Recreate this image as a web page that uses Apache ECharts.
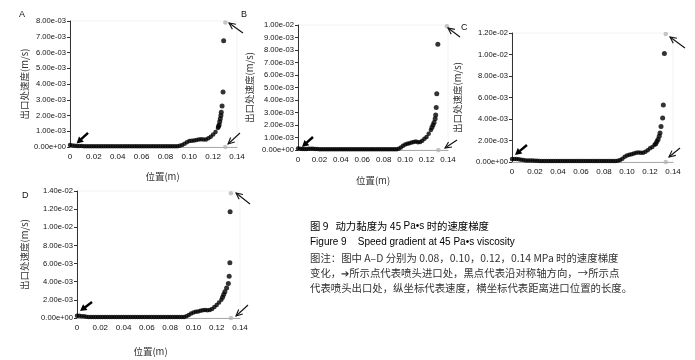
<!DOCTYPE html>
<html>
<head>
<meta charset="utf-8">
<script src="https://cdn.jsdelivr.net/npm/echarts@6/dist/echarts.min.js"></script>
<style>
  html, body { margin: 0; padding: 0; background: #fff; }
  #chart { width: 695px; height: 360px; }
</style>
</head>
<body>
<div id="chart"></div>
<script>
// 沿对称轴的位置 (m)，四幅图共用
const xBody = [0, 0.002, 0.004, 0.006, 0.008, 0.010, 0.012, 0.014, 0.016, 0.018,
  0.020, 0.022, 0.024, 0.026, 0.028, 0.030, 0.032, 0.034, 0.036, 0.038,
  0.040, 0.042, 0.044, 0.046, 0.048, 0.050, 0.052, 0.054, 0.056, 0.058,
  0.060, 0.062, 0.064, 0.066, 0.068, 0.070, 0.072, 0.074, 0.076, 0.078,
  0.080, 0.082, 0.084, 0.086, 0.088, 0.090, 0.092, 0.094, 0.096, 0.098,
  0.100, 0.102, 0.104, 0.106, 0.108, 0.110, 0.112, 0.114, 0.116, 0.118,
  0.120, 0.122, 0.124];

// 速度 (m/s)
const yBodyA = [0.00012, 0.00010, 0.00008, 0.00007, 0.00007, 0.00006, 0.00005, 0.00005, 0.00005, 0.00005,
  0.00005, 0.00005, 0.00005, 0.00005, 0.00005, 0.00005, 0.00005, 0.00005, 0.00005, 0.00005,
  0.00005, 0.00005, 0.00005, 0.00005, 0.00005, 0.00005, 0.00005, 0.00005, 0.00005, 0.00005,
  0.00005, 0.00005, 0.00005, 0.00005, 0.00005, 0.00005, 0.00005, 0.00005, 0.00005, 0.00005,
  0.00005, 0.00005, 0.00005, 0.00005, 0.00005, 0.00005, 0.00008, 0.00012, 0.00020, 0.00030,
  0.00038, 0.00040, 0.00042, 0.00045, 0.00048, 0.00050, 0.00047, 0.00048, 0.00056, 0.00065,
  0.00080, 0.00095, 0.00120];
const yBodyB = [0.00012, 0.00010, 0.00008, 0.00008, 0.00009, 0.00010, 0.00010, 0.00010, 0.00009, 0.00008,
  0.00007, 0.00006, 0.00006, 0.00006, 0.00006, 0.00006, 0.00006, 0.00006, 0.00006, 0.00006,
  0.00006, 0.00006, 0.00006, 0.00006, 0.00006, 0.00006, 0.00006, 0.00006, 0.00006, 0.00006,
  0.00006, 0.00006, 0.00006, 0.00006, 0.00006, 0.00006, 0.00006, 0.00006, 0.00006, 0.00006,
  0.00006, 0.00006, 0.00006, 0.00006, 0.00006, 0.00006, 0.00006, 0.00010, 0.00020, 0.00035,
  0.00045, 0.00050, 0.00055, 0.00060, 0.00065, 0.00068, 0.00062, 0.00065, 0.00075, 0.00090,
  0.00105, 0.00130, 0.00160];
const yBodyC = [0.00028, 0.00028, 0.00027, 0.00025, 0.00020, 0.00018, 0.00015, 0.00015, 0.00014, 0.00013,
  0.00012, 0.00011, 0.00010, 0.00010, 0.00010, 0.00010, 0.00010, 0.00010, 0.00010, 0.00010,
  0.00010, 0.00010, 0.00010, 0.00010, 0.00010, 0.00010, 0.00010, 0.00010, 0.00010, 0.00010,
  0.00010, 0.00010, 0.00010, 0.00010, 0.00010, 0.00010, 0.00010, 0.00010, 0.00010, 0.00010,
  0.00010, 0.00010, 0.00010, 0.00010, 0.00010, 0.00010, 0.00012, 0.00018, 0.00030, 0.00048,
  0.00060, 0.00068, 0.00072, 0.00078, 0.00085, 0.00088, 0.00087, 0.00086, 0.00095, 0.00110,
  0.00127, 0.00140, 0.00160];
const yBodyD = [0.00025, 0.00025, 0.00020, 0.00018, 0.00015, 0.00012, 0.00010, 0.00010, 0.00010, 0.00010,
  0.00010, 0.00010, 0.00010, 0.00010, 0.00010, 0.00010, 0.00010, 0.00010, 0.00010, 0.00010,
  0.00010, 0.00010, 0.00010, 0.00010, 0.00010, 0.00010, 0.00010, 0.00010, 0.00010, 0.00010,
  0.00011, 0.00011, 0.00012, 0.00012, 0.00012, 0.00011, 0.00010, 0.00010, 0.00010, 0.00010,
  0.00010, 0.00010, 0.00010, 0.00010, 0.00010, 0.00010, 0.00012, 0.00020, 0.00032, 0.00050,
  0.00060, 0.00068, 0.00072, 0.00080, 0.00085, 0.00088, 0.00085, 0.00088, 0.00100, 0.00120,
  0.00143, 0.00170, 0.00200];

// 出口附近急剧上升的点
const xTailA = [0.1245, 0.1250, 0.1255, 0.1260, 0.1265, 0.1268, 0.1275, 0.1283, 0.1288];
const yTailA = [0.0013, 0.0014, 0.0016, 0.0018, 0.0020, 0.0022, 0.0026, 0.0035, 0.00675];
const xTailB = [0.1250, 0.1260, 0.1270, 0.1280, 0.1285, 0.1290, 0.1295, 0.1305];
const yTailB = [0.0018, 0.0020, 0.0022, 0.0025, 0.0028, 0.0034, 0.0045, 0.00846];
const xTailC = [0.1250, 0.1260, 0.1270, 0.1280, 0.1287, 0.1296, 0.1310, 0.1316, 0.1325];
const yTailC = [0.0017, 0.0019, 0.0021, 0.0024, 0.0027, 0.0033, 0.0041, 0.0053, 0.0101];
const xTailD = [0.1250, 0.1260, 0.1270, 0.1285, 0.1300, 0.1307, 0.1313, 0.1315];
const yTailD = [0.0023, 0.0026, 0.0029, 0.0033, 0.0038, 0.0046, 0.0061, 0.0117];

// 灰色点：出口处（轴线与壁面）
const xGreyA = [0.1302, 0.1302];
const yGreyA = [0.0079, 0];
const xGreyB = [0.1390, 0.1310];
const yGreyB = [0.0099, 0];
const xGreyC = [0.1337, 0.1337];
const yGreyC = [0.0119, 0];
const xGreyD = [0.1322, 0.1322];
const yGreyD = [0.01375, 0];

// 箭头 [尾x, 尾y, 头x, 头y]
const arrowInlet = [
  [0.0151, 0.00089, 0.0055, 0.00022],
  [0.0140, 0.00104, 0.0037, 0.00024],
  [0.0130, 0.00158, 0.0026, 0.00065],
  [0.0129, 0.00176, 0.0026, 0.00077]
];
const arrowTop = [
  [0.1450, 0.00724, 0.1333, 0.00787],
  [0.1512, 0.00904, 0.1400, 0.00976],
  [0.1504, 0.01060, 0.1374, 0.01163],
  [0.1486, 0.01257, 0.1366, 0.01378]
];
const arrowBottom = [
  [0.1425, 0.00089, 0.1325, 0.00019],
  [0.1484, 0.00080, 0.1372, 0.00016],
  [0.1461, 0.00130, 0.1365, 0.00047],
  [0.1469, 0.00143, 0.1366, 0.00022]
];

const panelNames = ['A', 'B', 'C', 'D'];
const yMaxList = [0.008, 0.010, 0.012, 0.014];
const yStepList = [0.001, 0.001, 0.002, 0.002];

const captionLines = [
  '图 9   动力黏度为 45 {l|Pa•s} 时的速度梯度',
  'Figure 9    Speed gradient at 45 Pa•s viscosity',
  '图注：图中 A–D 分别为 0.08，0.10，0.12，0.14 MPa 时的速度梯度',
  '变化，➔所示点代表喷头进口处，黑点代表沿对称轴方向，→所示点',
  '代表喷头出口处，纵坐标代表速度，横坐标代表距离进口位置的长度。'
];

const bodies = [yBodyA, yBodyB, yBodyC, yBodyD];
const tails = [[xTailA, yTailA], [xTailB, yTailB], [xTailC, yTailC], [xTailD, yTailD]];
const greys = [[xGreyA, yGreyA], [xGreyB, yGreyB], [xGreyC, yGreyC], [xGreyD, yGreyD]];

// 布局
const grids = [
  { left: 70, top: 21, width: 167, height: 126 },
  { left: 298, top: 25, width: 150, height: 125 },
  { left: 512, top: 33, width: 161, height: 129 },
  { left: 77, top: 191, width: 163, height: 127 }
];
const yNameGap = [41, 44, 50, 48];
const xNameShow = [true, true, false, true];
const xNamePad = [[0, 0, 0, 18], [0, 0, 0, 0], [0, 0, 0, 0], [0, 16, 0, 0]];
const xNameGap = [25, 26, 26, 29];
const letterPos = [[23, 15], [245, 15], [465, 28], [26, 196]];

const LATIN = '"Liberation Sans", Arial, sans-serif';
const CJK = '"Noto Sans CJK SC", sans-serif';

function fmtY(v) {
  if (v === 0) return '0.00e+00';
  return v.toExponential(2).replace(/e([+-])(\d)$/, 'e$10$2');
}

const chart = echarts.init(document.getElementById('chart'));

const xAxis = [], yAxis = [], series = [];
grids.forEach((g, i) => {
  xAxis.push({
    type: 'value', gridIndex: i, min: 0, max: 0.14, interval: 0.02,
    name: xNameShow[i] ? '位置(m)' : '', nameLocation: 'middle', nameGap: xNameGap[i],
    nameTextStyle: { fontFamily: CJK, fontSize: 9.5, color: '#333', padding: xNamePad[i] },
    axisLine: { show: true, onZero: false, lineStyle: { color: '#aaa', width: 1 } },
    axisTick: { show: false },
    splitLine: { show: false },
    axisLabel: {
      fontFamily: LATIN, fontSize: 8, color: '#111', margin: 6,
      formatter: v => (v === 0 ? '0' : v.toFixed(2))
    }
  });
  yAxis.push({
    type: 'value', gridIndex: i, min: 0, max: yMaxList[i], interval: yStepList[i],
    name: '出口处速度(m/s)', nameLocation: 'middle', nameGap: yNameGap[i], nameRotate: 90,
    nameTextStyle: { fontFamily: CJK, fontSize: 9.5, color: '#333' },
    axisLine: { show: true, lineStyle: { color: '#333', width: 1 } },
    axisTick: { show: true, length: 3, lineStyle: { color: '#333' } },
    splitLine: { show: false },
    axisLabel: { fontFamily: LATIN, fontSize: 7.6, color: '#111', margin: 4, formatter: fmtY }
  });
  series.push({
    type: 'scatter', xAxisIndex: i, yAxisIndex: i, symbolSize: 4.5,
    itemStyle: { color: '#000' }, silent: true,
    data: xBody.map((x, k) => [x, bodies[i][k]])
  });
  series.push({
    type: 'scatter', xAxisIndex: i, yAxisIndex: i, symbolSize: 5,
    itemStyle: { color: '#000' }, silent: true,
    data: tails[i][0].map((x, k) => [x, tails[i][1][k]])
  });
  series.push({
    type: 'scatter', xAxisIndex: i, yAxisIndex: i, symbolSize: 4.5,
    itemStyle: { color: '#b5b5b5' }, silent: true, z: 3,
    data: greys[i][0].map((x, k) => [x, greys[i][1][k]])
  });
});

chart.setOption({
  animation: false,
  backgroundColor: '#fff',
  grid: grids.map(g => Object.assign({ show: true, borderColor: '#f2f2f2', borderWidth: 1, backgroundColor: '#fff' }, g)),
  xAxis, yAxis, series
});

// 箭头与文字
function arrow(i, a, filled) {
  const p0 = chart.convertToPixel({ gridIndex: i }, [a[0], a[1]]);
  const p1 = chart.convertToPixel({ gridIndex: i }, [a[2], a[3]]);
  const ang = Math.atan2(p1[1] - p0[1], p1[0] - p0[0]);
  const L = filled ? 7.5 : 7;
  const w = filled ? 0.5 : 0.45;
  const h1 = [p1[0] - L * Math.cos(ang - w), p1[1] - L * Math.sin(ang - w)];
  const h2 = [p1[0] - L * Math.cos(ang + w), p1[1] - L * Math.sin(ang + w)];
  if (filled) {
    const base = [p1[0] - L * 0.8 * Math.cos(ang), p1[1] - L * 0.8 * Math.sin(ang)];
    return [
      { type: 'line', shape: { x1: p0[0], y1: p0[1], x2: base[0], y2: base[1] }, style: { stroke: '#000', lineWidth: 2.4 }, z: 50 },
      { type: 'polygon', shape: { points: [p1, h1, h2] }, style: { fill: '#000' }, z: 50 }
    ];
  }
  return [
    { type: 'line', shape: { x1: p0[0], y1: p0[1], x2: p1[0], y2: p1[1] }, style: { stroke: '#111', lineWidth: 1.1 }, z: 50 },
    { type: 'polyline', shape: { points: [h1, p1, h2] }, style: { stroke: '#111', lineWidth: 1.1, fill: null }, z: 50 }
  ];
}

const graphic = [];
for (let i = 0; i < 4; i++) {
  graphic.push(...arrow(i, arrowInlet[i], true));
  graphic.push(...arrow(i, arrowTop[i], false));
  graphic.push(...arrow(i, arrowBottom[i], false));
  graphic.push({
    type: 'text', left: letterPos[i][0] - 4, top: letterPos[i][1] - 5, z: 50,
    style: { text: panelNames[i], fontFamily: LATIN, fontSize: 9, fill: '#111' }
  });
}
const capY = [226, 242, 258, 273, 288];
captionLines.forEach((t, k) => {
  graphic.push({
    type: 'text', x: 310, y: capY[k], z: 50,
    style: {
      text: t, fontFamily: k === 1 ? LATIN : CJK, fontSize: k === 1 ? 10 : 10.4,
      fill: k < 2 ? '#000' : '#333',
      verticalAlign: 'middle', align: 'left',
      rich: { l: { fontFamily: LATIN, fontSize: 10, fill: '#000' } }
    }
  });
});
chart.setOption({ graphic });
</script>
</body>
</html>
